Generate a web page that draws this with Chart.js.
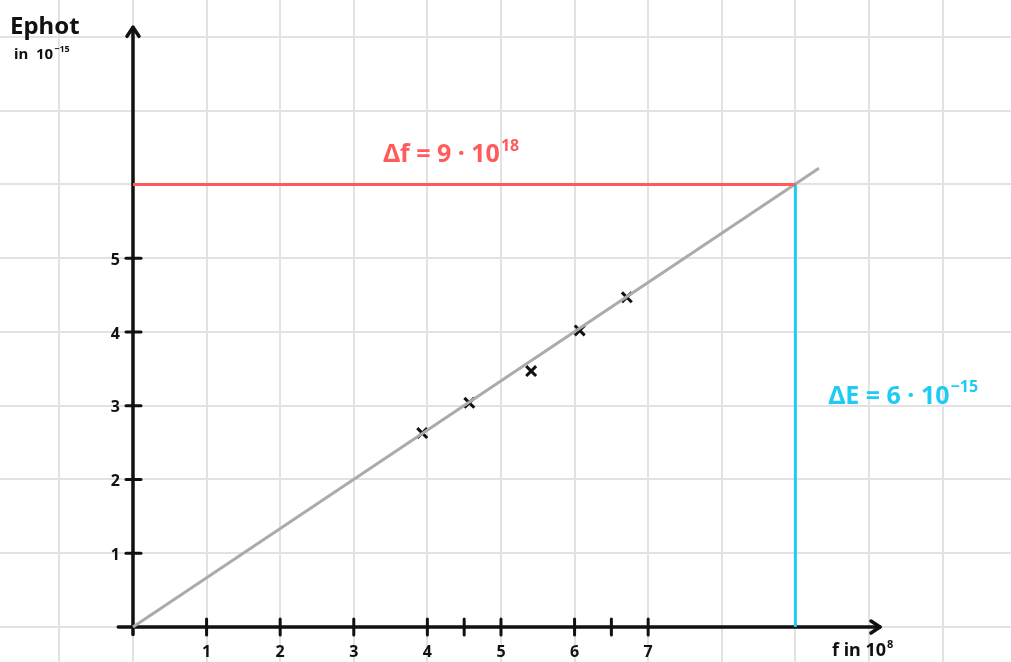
<!DOCTYPE html>
<html>
<head>
<meta charset="utf-8">
<script src="https://cdn.jsdelivr.net/npm/chart.js@4.4.1/dist/chart.umd.min.js"></script>
<style>
  html, body { margin: 0; padding: 0; background: #fff; overflow: hidden; }
  canvas { display: block; }
</style>
</head>
<body>
<canvas id="grafico" width="1011" height="662"></canvas>
<script>
// Messwerte (f in 10^18 Hz, E in 10^-15 J)
const messF = [3.93, 4.57, 5.41, 6.07, 6.71];
const messE = [2.63, 3.04, 3.47, 4.02, 4.47];

// Ausgleichsgerade, Anfang und Ende
const geradeF = [0, 9.32];
const geradeE = [0, 6.22];

// Steigungsdreieck
const deltaF = 9;
const deltaE = 6;

// Achsenbeschriftung
const xTicks = [1, 2, 3, 4, 5, 6, 7];
const xTickLabels = ['1', '2', '3', '4', '5', '6', '7'];
const xExtraTicks = [4.5, 6.5];
const yTicks = [1, 2, 3, 4, 5];
const yTickLabels = ['1', '2', '3', '4', '5'];

const rot = '#ff5b5b';
const blau = '#1ecbf2';
const grau = '#ababab';
const schrift = '"Noto Sans", sans-serif';

// Text mit Hochzahl
function textHoch(ctx, basis, hoch, x, y, groesse, farbe) {
    ctx.fillStyle = farbe;
    ctx.textAlign = 'left';
    ctx.textBaseline = 'alphabetic';
    ctx.font = 'bold ' + groesse + 'px ' + schrift;
    ctx.fillText(basis, x, y);
    const w = ctx.measureText(basis).width;
    if (hoch) {
        ctx.font = 'bold ' + Math.round(groesse * 0.62) + 'px ' + schrift;
        ctx.fillText(hoch, x + w + 1, y - groesse * 0.45);
    }
}

function pfeil(ctx, x, y, richtung) {
    ctx.beginPath();
    if (richtung === 'oben') {
        ctx.moveTo(x - 6, y + 9); ctx.lineTo(x, y); ctx.lineTo(x + 6, y + 9);
    } else {
        ctx.moveTo(x - 9, y - 6); ctx.lineTo(x, y); ctx.lineTo(x - 9, y + 6);
    }
    ctx.stroke();
}

// --- Achsen von Hand zeichnen ---
const achsenPlugin = {
    id: 'achsen',
    beforeDatasetsDraw(chart) {
        const ctx = chart.ctx;
        const sx = chart.scales.x;
        const sy = chart.scales.y;
        const x0 = sx.getPixelForValue(0);
        const y0 = sy.getPixelForValue(0);

        ctx.save();
        ctx.strokeStyle = '#111';
        ctx.lineWidth = 3.5;
        ctx.lineCap = 'round';
        ctx.lineJoin = 'round';

        // y-Achse
        const yTop = sy.getPixelForValue(8.13);
        ctx.beginPath();
        ctx.moveTo(x0, sy.getPixelForValue(-0.1));
        ctx.lineTo(x0, yTop);
        ctx.stroke();
        pfeil(ctx, x0, yTop, 'oben');

        // x-Achse
        const xEnd = sx.getPixelForValue(10.15);
        ctx.beginPath();
        ctx.moveTo(sx.getPixelForValue(-0.2), y0);
        ctx.lineTo(xEnd, y0);
        ctx.stroke();
        pfeil(ctx, xEnd, y0, 'rechts');

        // Striche
        ctx.lineWidth = 3;
        xTicks.concat(xExtraTicks).forEach(v => {
            const px = sx.getPixelForValue(v);
            ctx.beginPath();
            ctx.moveTo(px, y0 - 8);
            ctx.lineTo(px, y0 + 8);
            ctx.stroke();
        });
        yTicks.forEach(v => {
            const py = sy.getPixelForValue(v);
            ctx.beginPath();
            ctx.moveTo(x0 - 7, py);
            ctx.lineTo(x0 + 8, py);
            ctx.stroke();
        });

        // Zahlen
        ctx.fillStyle = '#111';
        ctx.font = 'bold 16px ' + schrift;
        ctx.textAlign = 'center';
        ctx.textBaseline = 'middle';
        xTicks.forEach((v, i) => {
            ctx.fillText(xTickLabels[i], sx.getPixelForValue(v), y0 + 25);
        });
        ctx.textAlign = 'right';
        yTicks.forEach((v, i) => {
            ctx.fillText(yTickLabels[i], x0 - 13, sy.getPixelForValue(v) + 2);
        });
        ctx.restore();
    },
    afterDraw(chart) {
        const ctx = chart.ctx;
        const sx = chart.scales.x;
        const sy = chart.scales.y;
        ctx.save();
        // Achsentitel
        textHoch(ctx, 'Ephot', '', 10, 34, 24, '#111');
        textHoch(ctx, 'in  10', '−15', 14, 59, 15, '#111');
        textHoch(ctx, 'f in 10', '8', 832, 656, 18, '#111');

        // Steigungsdreieck beschriften
        textHoch(ctx, 'Δf = 9 · 10', '18', sx.getPixelForValue(3.4), sy.getPixelForValue(6.3), 25, rot);
        textHoch(ctx, 'ΔE = 6 · 10', '−15', sx.getPixelForValue(9.45), sy.getPixelForValue(3.03), 25, blau);
        ctx.restore();
    }
};

const ctx = document.getElementById('grafico').getContext('2d');

new Chart(ctx, {
    type: 'scatter',
    data: {
        datasets: [
            {
                label: 'Δf',
                data: [{ x: 0, y: deltaE }, { x: deltaF, y: deltaE }],
                showLine: true,
                borderColor: rot,
                borderWidth: 3,
                pointRadius: 0
            },
            {
                label: 'ΔE',
                data: [{ x: deltaF, y: 0 }, { x: deltaF, y: deltaE }],
                showLine: true,
                borderColor: blau,
                borderWidth: 3,
                pointRadius: 0
            },
            {
                label: 'Ausgleichsgerade',
                data: geradeF.map((f, i) => ({ x: f, y: geradeE[i] })),
                showLine: true,
                borderColor: grau,
                borderWidth: 3,
                pointRadius: 0
            },
            {
                label: 'Messwerte',
                data: messF.map((f, i) => ({ x: f, y: messE[i] })),
                pointStyle: 'crossRot',
                pointRadius: 7,
                borderColor: '#111',
                borderWidth: 3
            }
        ]
    },
    options: {
        responsive: false,
        animation: false,
        layout: { padding: 0, autoPadding: false },
        plugins: {
            legend: { display: false },
            tooltip: { enabled: false }
        },
        scales: {
            x: {
                type: 'linear',
                min: -1.807,
                max: 11.93,
                border: { display: false },
                grid: { color: '#e2e2e2', lineWidth: 2, drawTicks: false },
                ticks: { display: false, stepSize: 1, includeBounds: false, maxTicksLimit: 20 }
            },
            y: {
                type: 'linear',
                min: -0.474,
                max: 8.5,
                border: { display: false },
                grid: { color: '#e2e2e2', lineWidth: 2, drawTicks: false },
                ticks: { display: false, stepSize: 1, includeBounds: false, maxTicksLimit: 20 }
            }
        }
    },
    plugins: [achsenPlugin]
});
</script>
</body>
</html>
